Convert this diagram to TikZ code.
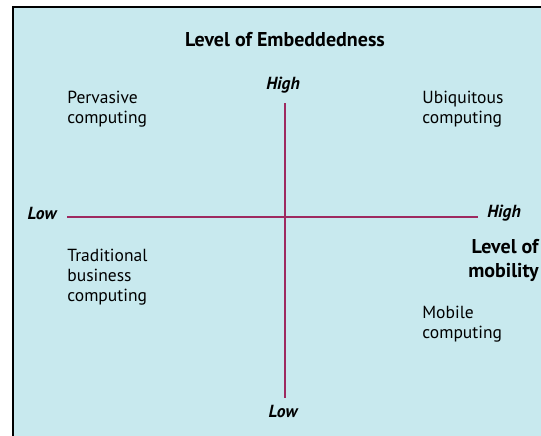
\documentclass[tikz,border=0pt]{standalone}
\usepackage{fontspec}
\setmainfont{PT Sans}
\usepackage{xcolor}
\usetikzlibrary{positioning}

\definecolor{panel}{RGB}{200,233,238}
\definecolor{axis}{RGB}{158,42,96}

\begin{document}
\begin{tikzpicture}[
    x=1pt,
    y=-1pt,
    thick
]

\tikzstyle{quad}=[
    anchor=north west,
    align=left,
    inner sep=0pt,
    font=\fontsize{17.5}{20}\selectfont
]
\tikzstyle{tick}=[
    inner sep=0pt,
    font=\fontsize{17.5}{20}\selectfont\bfseries\itshape
]
\tikzstyle{title}=[
    inner sep=0pt,
    font=\fontsize{20}{24}\selectfont\bfseries
]

\useasboundingbox (0,0) rectangle (541,436);
\fill[panel] (13,7) rectangle (541,436);
\draw[black, line width=1.2pt] (13,436) -- (13,7) -- (541,7);

% axes
\coordinate (top) at (285,103);
\coordinate (bot) at (285,398);
\coordinate (lft) at (67,217);
\coordinate (rgt) at (478,217);

\draw[axis, line width=1.6pt] (top) -- (bot);
\draw[axis, line width=1.6pt] (lft) -- (rgt);

\node[tick] (yhigh) at (283,85) {High};
\node[tick] (ylow) at (283,411) {Low};
\node[tick] (xlow) at (42,213) {Low};
\node[tick] (xhigh) at (504,213) {High};

\node[title] (emb) at (285,40) {Level of Embeddedness};
\node[title, anchor=north east, align=right] (mob) at (539,239) {Level of\\mobility};

% quadrants
\node[quad] (perv) at (67,91) {Pervasive\\computing};
\node[quad] (ubiq) at (422,91) {Ubiquitous\\computing};
\node[quad] (trad) at (67,249) {Traditional\\business\\computing};
\node[quad] (mobc) at (422,306) {Mobile\\computing};

\end{tikzpicture}
\end{document}
